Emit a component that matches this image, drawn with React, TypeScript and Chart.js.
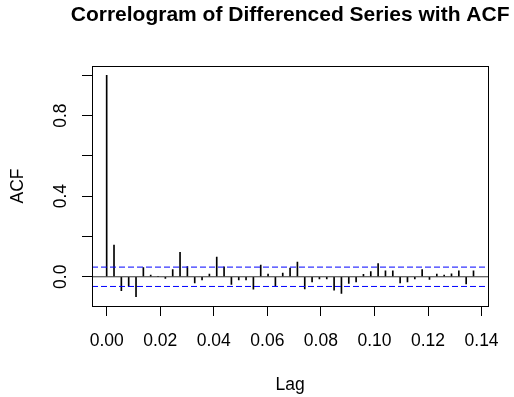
import React, { useEffect, useRef } from "react";
import { Chart, registerables } from "chart.js";

Chart.register(...registerables);

const TITLE = "Correlogram of Differenced Series with ACF";
const X_LABEL = "Lag";
const Y_LABEL = "ACF";

const LAGS = [
  0, 0.00274, 0.00548, 0.00822, 0.01096, 0.0137, 0.01644, 0.01918, 0.02192, 0.02466,
  0.0274, 0.03014, 0.03288, 0.03562, 0.03836, 0.0411, 0.04384, 0.04658, 0.04932, 0.05205,
  0.05479, 0.05753, 0.06027, 0.06301, 0.06575, 0.06849, 0.07123, 0.07397, 0.07671, 0.07945,
  0.08219, 0.08493, 0.08767, 0.09041, 0.09315, 0.09589, 0.09863, 0.10137, 0.10411, 0.10685,
  0.10959, 0.11233, 0.11507, 0.11781, 0.12055, 0.12329, 0.12603, 0.12877, 0.13151, 0.13425,
  0.13699,
];

const ACF = [
  1.0, 0.157, -0.069, -0.046, -0.099, 0.046, 0.008, 0.002, -0.008, 0.036,
  0.121, 0.051, -0.03, -0.015, 0.013, 0.098, 0.05, -0.038, -0.015, -0.015,
  -0.061, 0.058, 0.013, -0.045, 0.018, 0.043, 0.073, -0.06, -0.025, -0.01,
  -0.01, -0.066, -0.083, -0.033, -0.025, 0.012, 0.026, 0.066, 0.03, 0.03,
  -0.031, -0.025, -0.01, 0.036, -0.013, 0.013, 0.008, 0.015, 0.03, -0.036,
  0.03,
];

const CI = 0.048;

const X_TICKS = [0, 0.02, 0.04, 0.06, 0.08, 0.1, 0.12, 0.14];
const Y_TICKS = [0, 0.2, 0.4, 0.6, 0.8, 1.0];
const Y_LABELED = [0, 0.4, 0.8];

const X_MIN = -0.00548;
const X_MAX = 0.14247;
const Y_MIN = -0.145;
const Y_MAX = 1.046;

const FONT = "'Liberation Sans', Arial, sans-serif";

export default function App() {
  const ref = useRef<HTMLCanvasElement | null>(null);

  useEffect(() => {
    if (!ref.current) return;

    const boxPlugin = {
      id: "box",
      afterDraw(chart: any) {
        const { ctx, chartArea } = chart;
        ctx.save();
        ctx.strokeStyle = "#000";
        ctx.lineWidth = 1;
        const l = Math.round(chartArea.left) + 0.5;
        const t = Math.round(chartArea.top) + 0.5;
        const r = Math.round(chartArea.right) + 0.5;
        const b = Math.round(chartArea.bottom) + 0.5;
        ctx.strokeRect(l, t, r - l, b - t);
        // title, centred over the plot region (as R does)
        ctx.fillStyle = "#000";
        ctx.font = `bold 21px ${FONT}`;
        ctx.textAlign = "center";
        ctx.textBaseline = "middle";
        ctx.fillText(TITLE, (chartArea.left + chartArea.right) / 2, 15);
        ctx.restore();
      },
    };

    const chart = new Chart(ref.current, {
      type: "bar",
      data: {
        datasets: [
          {
            type: "bar",
            data: LAGS.map((x, i) => ({ x, y: ACF[i] })),
            backgroundColor: "#000",
            barThickness: 1,
            order: 2,
          } as any,
          {
            type: "line",
            data: [
              { x: X_MIN, y: 0 },
              { x: X_MAX, y: 0 },
            ],
            borderColor: "#333",
            borderWidth: 1,
            pointRadius: 0,
            order: 1,
          },
          {
            type: "line",
            data: [
              { x: X_MIN, y: CI },
              { x: X_MAX, y: CI },
            ],
            borderColor: "#0000ff",
            borderWidth: 1,
            borderDash: [6, 3],
            pointRadius: 0,
            order: 0,
          },
          {
            type: "line",
            data: [
              { x: X_MIN, y: -CI },
              { x: X_MAX, y: -CI },
            ],
            borderColor: "#0000ff",
            borderWidth: 1,
            borderDash: [6, 3],
            pointRadius: 0,
            order: 0,
          },
        ],
      },
      options: {
        responsive: false,
        animation: false,
        layout: { padding: { left: 0, right: 24, top: 66, bottom: 0 } },
        plugins: {
          legend: { display: false },
          tooltip: { enabled: false },
          title: { display: false },
        },
        scales: {
          x: {
            type: "linear",
            min: X_MIN,
            max: X_MAX,
            offset: false,
            afterBuildTicks: (s: any) => {
              s.ticks = X_TICKS.map((v) => ({ value: v }));
            },
            afterFit: (s: any) => {
              s.height = 91;
            },
            ticks: {
              color: "#000",
              font: { family: FONT, size: 17.5 },
              padding: 15,
              maxRotation: 0,
              minRotation: 0,
              autoSkip: false,
              callback: (v: any) => Number(v).toFixed(2),
            },
            grid: {
              offset: false,
              drawOnChartArea: false,
              drawTicks: true,
              tickLength: 10,
              color: "#000",
            },
            border: { display: true, color: "#000" },
            title: {
              display: true,
              text: X_LABEL,
              color: "#000",
              font: { family: FONT, size: 17.5, lineHeight: 1.2 },
              padding: { top: 0, bottom: 1 },
            },
          },
          y: {
            type: "linear",
            min: Y_MIN,
            max: Y_MAX,
            afterBuildTicks: (s: any) => {
              s.ticks = Y_TICKS.map((v) => ({ value: v }));
            },
            afterFit: (s: any) => {
              s.width = 92;
            },
            ticks: {
              color: "#000",
              font: { family: FONT, size: 17.5 },
              padding: 9,
              minRotation: 90,
              maxRotation: 90,
              crossAlign: "center",
              autoSkip: false,
              callback: (v: any) =>
                Y_LABELED.some((t) => Math.abs(t - Number(v)) < 1e-9) ? Number(v).toFixed(1) : "",
            },
            grid: {
              drawOnChartArea: false,
              drawTicks: true,
              tickLength: 10,
              color: "#000",
            },
            border: { display: true, color: "#000" },
            title: {
              display: true,
              text: Y_LABEL,
              color: "#000",
              font: { family: FONT, size: 17.5, lineHeight: 1.2 },
              padding: { top: 7.5, bottom: 0 },
            },
          },
        },
      } as any,
      plugins: [boxPlugin],
    });

    return () => chart.destroy();
  }, []);

  return (
    <div style={{ position: "fixed", left: 0, top: 0, width: 514, height: 397, background: "#fff" }}>
      <canvas ref={ref} width={514} height={397} style={{ width: 514, height: 397 }} />
    </div>
  );
}
